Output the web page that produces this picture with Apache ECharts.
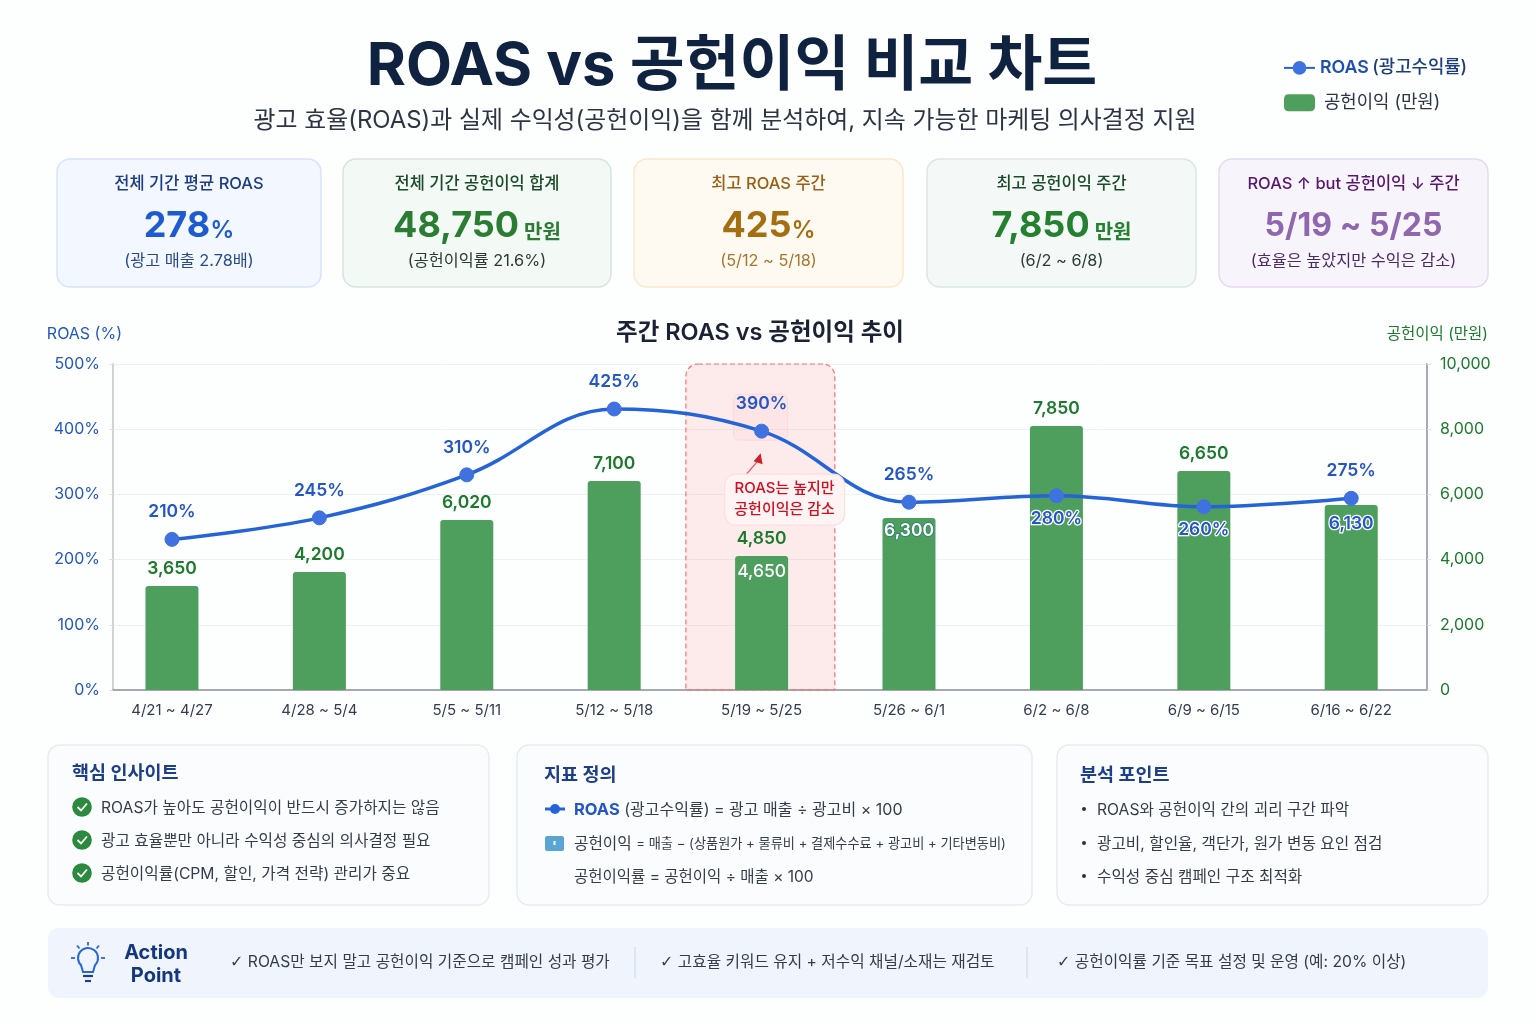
<!DOCTYPE html>
<html lang="ko">
<head>
<meta charset="utf-8">
<title>ROAS vs 공헌이익 비교 차트</title>
<script src="https://cdn.jsdelivr.net/npm/echarts@6/dist/echarts.min.js"></script>
<style>html,body{margin:0;padding:0;background:#fdfefe}#c{width:1536px;height:1024px}</style>
</head>
<body>
<div id="c"></div>
<script>
const FONT = 'Inter, "Noto Sans CJK KR", "Noto Sans", sans-serif';

// ---- data ----
const weeks = ['4/21 ~ 4/27','4/28 ~ 5/4','5/5 ~ 5/11','5/12 ~ 5/18','5/19 ~ 5/25','5/26 ~ 6/1','6/2 ~ 6/8','6/9 ~ 6/15','6/16 ~ 6/22'];
// heights (the picture's marks do not sit at their printed values)
const roasPlotted = [231, 264, 330, 431, 397, 288, 298, 281, 294];
const profitPlotted = [3190, 3620, 5215, 6411, 4110, 5276, 8098, 6718, 5675];
// numbers printed next to the marks
const roasPrinted = ['210%','245%','310%','425%','390%','265%','280%','260%','275%'];
const profitPrinted = ['3,650','4,200','6,020','7,100','4,850','6,300','7,850','6,650','6,130'];
const roasBelow = [6, 7];
const profitInside = [5, 8];
const highlightWeek = [4];
const extraInsideLabel = '4,650';
const roasTicks = [0, 100, 200, 300, 400, 500];
const profitTicks = [0, 2000, 4000, 6000, 8000, 10000];

const cardTitles = ['전체 기간 평균 ROAS','전체 기간 공헌이익 합계','최고 ROAS 주간','최고 공헌이익 주간','ROAS ↑ but 공헌이익 ↓ 주간'];
const cardValues = ['278','48,750','425','7,850','5/19 ~ 5/25'];
const cardUnits = ['%','만원','%','만원',''];
const cardNotes = ['(광고 매출 2.78배)','(공헌이익률 21.6%)','(5/12 ~ 5/18)','(6/2 ~ 6/8)','(효율은 높았지만 수익은 감소)'];
const insightLines = ['ROAS가 높아도 공헌이익이 반드시 증가하지는 않음','광고 효율뿐만 아니라 수익성 중심의 의사결정 필요','공헌이익률(CPM, 할인, 가격 전략) 관리가 중요'];
const analysisLines = ['ROAS와 공헌이익 간의 괴리 구간 파악','광고비, 할인율, 객단가, 원가 변동 요인 점검','수익성 중심 캠페인 구조 최적화'];
const actionLines = ['ROAS만 보지 말고 공헌이익 기준으로 캠페인 성과 평가','고효율 키워드 유지 + 저수익 채널/소재는 재검토','공헌이익률 기준 목표 설정 및 운영 (예: 20% 이상)'];

// ---- page furniture helpers ----
const C_BLUE = '#2456c8', C_GREEN = '#1c7a2c', C_LINE = '#2563d9', C_BAR = '#4e9f5e';
const g = [];
function box(x0, y0, x1, y1, fill, stroke, r) {
  g.push({type:'rect', silent:true, z:0, shape:{x:x0, y:y0, width:x1-x0, height:y1-y0, r:r||12},
    style:{fill:fill, stroke:stroke||null, lineWidth:stroke?1.5:0}});
}
function txt(x, y, text, size, color, weight, align, rich) {
  g.push({type:'text', silent:true, z:10, x:x, y:y+1.5, style:{text:text, fill:color, align:align||'left', verticalAlign:'middle',
    font:(weight||400)+' '+size+'px '+FONT, rich:rich}});
}
const cardGeom = [[57,321],[343,611],[634,903],[927,1196],[1219,1488]];
const cardStyle = [
  {bg:'#f3f7ff',bd:'#d7e4fb',t:'#1c3c85',v:'#1f5bd0',n:'#2a4a86',s:36},
  {bg:'#f3f9f5',bd:'#d5e6dc',t:'#1c4a2a',v:'#2a7d33',n:'#2b3a33',s:36},
  {bg:'#fffaf1',bd:'#fae8cd',t:'#9a5f14',v:'#a46f12',n:'#a8752b',s:36},
  {bg:'#f4f9f7',bd:'#d8e8e2',t:'#1c4a2a',v:'#23812f',n:'#2b3a33',s:36},
  {bg:'#f8f4fc',bd:'#e5daf0',t:'#55186f',v:'#8f67ae',n:'#4a2a66',s:32}
];
cardGeom.forEach(function(c, i){
  const st = cardStyle[i], cx = (c[0]+c[1])/2;
  box(c[0],159,c[1],287,st.bg,st.bd,13);
  txt(cx,183,cardTitles[i],16.5,st.t,500,'center');
  const unitSize = cardUnits[i]==='%' ? 24 : 20;
  const rich = {v:{fill:st.v,font:'700 '+st.s+'px '+FONT},u:{fill:st.v,font:'600 '+unitSize+'px '+FONT,verticalAlign:'bottom',padding:[0,0,2,0]}};
  txt(cx,225,'{v|'+cardValues[i]+'}'+(cardUnits[i]?'{u|'+(cardUnits[i]==='%'?'':' ')+cardUnits[i]+'}':''),st.s,st.v,700,'center',rich);
  txt(cx,260,cardNotes[i],16.3,st.n,400,'center');
});

// bottom panels
box(48,745,489,905,'#fbfcfe','#e8ebf1',12);
box(517,745,1032,905,'#fbfcfe','#e8ebf1',12);
box(1057,745,1488,905,'#fbfcfe','#e8ebf1',12);
box(48,928,1488,998,'#eff4fd',null,11);

const H = '#1d3f8a', B = '#343c4a';
txt(72,772,'핵심 인사이트',18.5,H,700);
[807,840,873].forEach(function(y,i){
  g.push({type:'circle',silent:true,z:5,shape:{cx:82,cy:y,r:9.8},style:{fill:'#2b8a3e'}});
  g.push({type:'polyline',silent:true,z:6,shape:{points:[[77.5,y],[81,y+3.5],[87,y-3.5]]},style:{stroke:'#fff',lineWidth:1.8,fill:null}});
  txt(101,y,insightLines[i],15.7,B);
});

txt(544,774,'지표 정의',18.5,H,700);
g.push({type:'line',silent:true,z:5,shape:{x1:545,y1:809,x2:565,y2:809},style:{stroke:C_LINE,lineWidth:3}});
g.push({type:'circle',silent:true,z:6,shape:{cx:555,cy:809,r:5},style:{fill:C_LINE}});
txt(574,809,'{a|ROAS} {b|(광고수익률) = 광고 매출 ÷ 광고비 × 100}',16,B,400,'left',
  {a:{fill:C_BLUE,font:'700 16.5px '+FONT},b:{fill:B,font:'400 16px '+FONT}});
g.push({type:'rect',silent:true,z:5,shape:{x:545,y:836,width:19,height:15,r:2},style:{fill:'#5aa5d2'}});
g.push({type:'rect',silent:true,z:6,shape:{x:553.5,y:841,width:2,height:4},style:{fill:'#fff'}});
txt(574,843,'{a|공헌이익} {b|= 매출 − (상품원가 + 물류비 + 결제수수료 + 광고비 + 기타변동비)}',16,B,400,'left',
  {a:{fill:B,font:'400 15.7px '+FONT},b:{fill:B,font:'400 13.2px '+FONT}});
txt(574,876,'공헌이익률 = 공헌이익 ÷ 매출 × 100',15.5,B);

txt(1080,774,'분석 포인트',18.5,H,700);
[809,843,876].forEach(function(y,i){
  g.push({type:'circle',silent:true,z:5,shape:{cx:1084,cy:y,r:2},style:{fill:'#2a3240'}});
  txt(1097,y,analysisLines[i],15.7,B);
});

// action bar
const bulb = '#2a67d8';
g.push({type:'arc',silent:true,z:6,shape:{cx:88,cy:958,r:10,startAngle:Math.PI*0.72,endAngle:Math.PI*0.28,clockwise:true},style:{stroke:bulb,fill:null,lineWidth:2}});
g.push({type:'polyline',silent:true,z:6,shape:{points:[[81,965],[83,972],[93,972],[95,965]]},style:{stroke:bulb,fill:null,lineWidth:2}});
g.push({type:'line',silent:true,z:6,shape:{x1:83,y1:976,x2:93,y2:976},style:{stroke:'#1e3f8a',lineWidth:2.2}});
g.push({type:'line',silent:true,z:6,shape:{x1:85,y1:981,x2:91,y2:981},style:{stroke:'#1e3f8a',lineWidth:2.2}});
[[88,942,88,945.5],[77,945.5,79.5,948.5],[99,945.5,96.5,948.5],[71,958,75,958],[105,958,101,958]].forEach(function(p){
  g.push({type:'line',silent:true,z:6,shape:{x1:p[0],y1:p[1],x2:p[2],y2:p[3]},style:{stroke:bulb,lineWidth:1.8}});
});
txt(156,951,'Action',20,'#14387f',700,'center');
txt(156,974,'Point',20,'#14387f',700,'center');
[230,660,1057].forEach(function(x,i){
  txt(x,961,'{k|✓} {t|'+actionLines[i]+'}',15.7,B,400,'left',
    {k:{fill:B,font:'400 16px "DejaVu Sans", sans-serif'},t:{fill:B,font:'400 15.7px '+FONT}});
});
[635,1027].forEach(function(x){
  g.push({type:'line',silent:true,z:5,shape:{x1:x,y1:947,x2:x,y2:978},style:{stroke:'#d6dce8',lineWidth:1.2}});
});

// ---- chart ----
const roasData = roasPlotted.map(function(v,i){
  const below = roasBelow.indexOf(i) >= 0;
  return {value:[i,v], label: below ? {position:'bottom',distance:7,textBorderColor:'#fff',textBorderWidth:2.5} : {position:'top'}};
});
const profitData = profitPlotted.map(function(v,i){
  const item = {value:[i,v]};
  if (profitInside.indexOf(i) >= 0) {
    item.label = i === profitInside[0]
      ? {position:'insideTop',distance:4,color:'#fff',textBorderColor:'#2b7d6c',textBorderWidth:1.5}
      : {position:'insideTop',distance:10,color:C_BLUE,textBorderColor:'#fff',textBorderWidth:2.5};
  }
  return item;
});

const option = {
  backgroundColor:'#fdfefe',
  animation:false,
  textStyle:{fontFamily:FONT},
  title:[
    {text:'ROAS vs 공헌이익 비교 차트',left:732,top:67,padding:0,textAlign:'center',textVerticalAlign:'middle',
      textStyle:{fontFamily:FONT,fontSize:59.7,fontWeight:700,color:'#0f2240'}},
    {text:'광고 효율(ROAS)과 실제 수익성(공헌이익)을 함께 분석하여, 지속 가능한 마케팅 의사결정 지원',left:725,top:121,padding:0,textAlign:'center',textVerticalAlign:'middle',
      textStyle:{fontFamily:FONT,fontSize:23.9,fontWeight:400,color:'#2d3545'}},
    {text:'주간 ROAS vs 공헌이익 추이',left:760,top:333,padding:0,textAlign:'center',textVerticalAlign:'middle',
      textStyle:{fontFamily:FONT,fontSize:23.5,fontWeight:600,color:'#1a2233'}}
  ],
  legend:{
    left:1283,top:59,orient:'vertical',itemGap:17,itemWidth:31,itemHeight:17,itemTextGap:11,padding:0,
    selectedMode:false,
    formatter:function(n){ return n.indexOf('ROAS')===0 ? '{a|ROAS} {b|(광고수익률)}' : '{c|'+n+'}'; },
    textStyle:{rich:{
      a:{fontFamily:FONT,fontSize:17.8,fontWeight:600,color:'#1f4fb5'},
      b:{fontFamily:FONT,fontSize:17.8,fontWeight:500,color:'#1c3c7c'},
      c:{fontFamily:FONT,fontSize:17.8,fontWeight:400,color:'#2b3442',padding:[0,0,0,4]}
    }},
    data:['ROAS (광고수익률)','공헌이익 (만원)']
  },
  grid:{left:113,right:109,top:364,bottom:334,containLabel:false},
  xAxis:{
    type:'value',min:-0.4,max:8.514,
    splitLine:{show:false},
    axisLine:{onZero:false,lineStyle:{color:'#a5a9b3',width:2}},
    axisTick:{show:false},
    axisLabel:{customValues:weeks.map(function(_,i){return i;}),formatter:function(v){return weeks[v];},
      margin:13,color:'#333c4d',fontSize:15,fontFamily:FONT}
  },
  yAxis:[
    {type:'value',min:roasTicks[0],max:roasTicks[roasTicks.length-1],interval:100,position:'left',
      name:'ROAS (%)',nameLocation:'end',nameGap:22,
      nameTextStyle:{color:C_BLUE,fontSize:16,fontFamily:FONT,align:'right',padding:[0,-9,0,0]},
      axisLine:{show:true,onZero:false,lineStyle:{color:'#cfd2da',width:2}},
      axisTick:{show:true,length:4,lineStyle:{color:'#dfe2e9'}},
      splitLine:{show:true,lineStyle:{color:'#eef0f6',width:1}},
      axisLabel:{color:C_BLUE,fontSize:16,fontFamily:FONT,margin:13,formatter:'{value}%'}},
    {type:'value',min:profitTicks[0],max:profitTicks[profitTicks.length-1],interval:2000,position:'right',
      name:'공헌이익 (만원)',nameLocation:'end',nameGap:22,
      nameTextStyle:{color:C_GREEN,fontSize:15.5,fontFamily:FONT,align:'right',padding:[0,-61,0,0]},
      axisLine:{show:true,onZero:false,lineStyle:{color:'#a5a9b3',width:2}},
      axisTick:{show:true,length:4,lineStyle:{color:'#dfe2e9'}},
      splitLine:{show:false},
      axisLabel:{color:C_GREEN,fontSize:16,fontFamily:FONT,margin:13,
        formatter:function(v){return v.toLocaleString('en-US');}}}
  ],
  series:[
    {type:'custom',name:'highlight',xAxisIndex:0,yAxisIndex:0,z:1,silent:true,
      data:highlightWeek.map(function(i){return [i];}),
      encode:{x:0},
      renderItem:function(params,api){
        const i = api.value(0);
        const a = api.coord([i-0.5,roasTicks[roasTicks.length-1]]);
        const b = api.coord([i+0.5,roasTicks[0]]);
        const p = api.coord([i,roasPlotted[i]]);
        return {type:'group',children:[
          {type:'rect',shape:{x:a[0]-2,y:a[1],width:b[0]-a[0]+1.5,height:b[1]-a[1],r:[12,12,0,0]},
            style:{fill:'rgba(255,80,80,0.11)',stroke:'#ff6f6f',lineWidth:1.2,lineDash:[5,3]}},
          {type:'rect',shape:{x:p[0]-28,y:p[1]-37,width:54,height:46,r:5},
            style:{fill:'rgba(255,190,190,0.12)',stroke:'rgba(250,190,190,0.3)',lineWidth:1}}
        ]};
      }},
    {type:'bar',name:'공헌이익 (만원)',yAxisIndex:1,z:2,barWidth:53,
      itemStyle:{color:C_BAR,borderRadius:[3,3,0,0]},
      data:profitData,
      label:{show:true,position:'top',distance:9,color:C_GREEN,fontSize:17.5,fontWeight:600,fontFamily:FONT,
        formatter:function(p){return profitPrinted[p.dataIndex];}},
      markPoint:{silent:true,symbol:'rect',symbolSize:1,itemStyle:{color:'rgba(0,0,0,0)'},
        data:[{coord:[highlightWeek[0],profitPlotted[highlightWeek[0]]],
          label:{show:true,position:'inside',offset:[0,16],formatter:extraInsideLabel,color:'#fff',fontSize:17.5,fontWeight:500,fontFamily:FONT}}]}
    },
    {type:'line',name:'ROAS (광고수익률)',yAxisIndex:0,z:3,smooth:0.38,
      symbol:'circle',symbolSize:14,
      lineStyle:{color:C_LINE,width:3.5},
      itemStyle:{color:'#3f72e0',borderColor:'#3f72e0'},
      data:roasData,
      label:{show:true,distance:11,color:C_BLUE,fontSize:17.5,fontWeight:600,fontFamily:FONT,
        formatter:function(p){return roasPrinted[p.dataIndex];}}
    },
    {type:'custom',name:'callout',xAxisIndex:0,yAxisIndex:0,z:6,silent:true,
      data:highlightWeek.map(function(i){return [i];}),
      encode:{x:0},
      renderItem:function(params,api){
        const i = api.value(0);
        const p = api.coord([i,roasPlotted[i]]);
        const x = p[0], y = p[1];
        return {type:'group',children:[
          {type:'line',shape:{x1:x-16,y1:y+44,x2:x-3,y2:y+29},style:{stroke:'#e0565c',lineWidth:1.3}},
          {type:'polygon',shape:{points:[[x-1,y+22],[x+1,y+33],[x-8,y+30]]},style:{fill:'#cf1f2b'}},
          {type:'rect',shape:{x:x-37,y:y+43,width:120,height:51,r:11},style:{fill:'#fff3f3',stroke:'#fbe0e0',lineWidth:1.2}},
          {type:'text',style:{x:x+23,y:y+68,text:'ROAS는 높지만\n공헌이익은 감소',fill:'#cf1020',align:'center',verticalAlign:'middle',
            font:'500 15px '+FONT,lineHeight:21}}
        ]};
      }}
  ],
  graphic:{elements:g}
};
const chart = echarts.init(document.getElementById('c'),null,{width:1536,height:1024});
chart.setOption(option);
</script>
</body>
</html>
